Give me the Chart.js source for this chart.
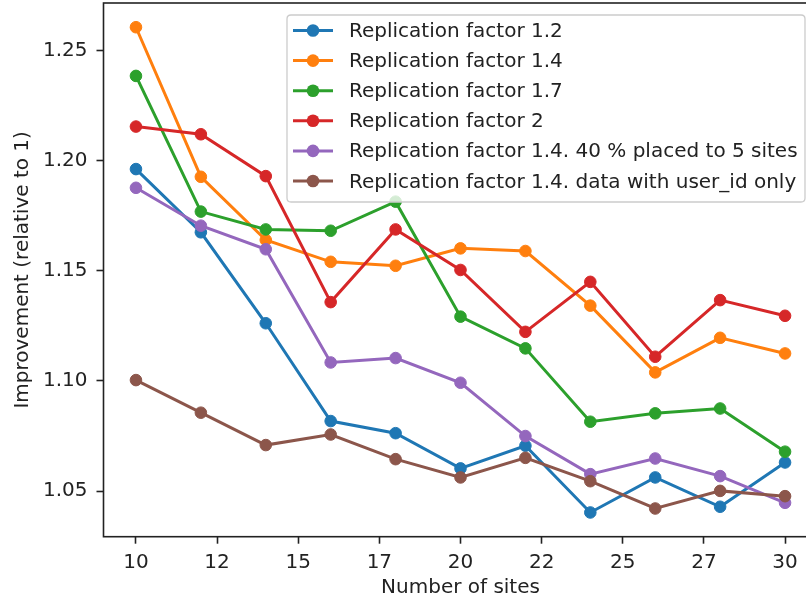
<!DOCTYPE html>
<html>
<head>
<meta charset="utf-8">
<script src="https://cdn.jsdelivr.net/npm/chart.js@4.4.0/dist/chart.umd.min.js"></script>
<style>
  html, body { margin: 0; padding: 0; background: #fff; overflow: hidden; }
  #wrap { width: 820px; height: 598px; }
</style>
</head>
<body>
<div id="wrap"><canvas id="c" width="820" height="598"></canvas></div>
<script>
// ---- data ----
const sites = [10, 12, 14, 16, 18, 20, 22, 24, 26, 28, 30];
const rf12    = [1.1962, 1.1675, 1.1262, 1.0818, 1.0763, 1.0603, 1.0706, 1.0403, 1.0562, 1.0429, 1.0630];
const rf14    = [1.2606, 1.1927, 1.1640, 1.1541, 1.1523, 1.1602, 1.1590, 1.1342, 1.1039, 1.1196, 1.1125];
const rf17    = [1.2385, 1.1769, 1.1688, 1.1682, 1.1814, 1.1292, 1.1148, 1.0815, 1.0853, 1.0875, 1.0679];
const rf2     = [1.2155, 1.2120, 1.1930, 1.1358, 1.1688, 1.1504, 1.1223, 1.1450, 1.1110, 1.1367, 1.1296];
const rf14p40 = [1.1877, 1.1705, 1.1598, 1.1084, 1.1104, 1.0992, 1.0750, 1.0577, 1.0648, 1.0568, 1.0447];
const rf14uid = [1.1004, 1.0856, 1.0709, 1.0757, 1.0645, 1.0562, 1.0651, 1.0545, 1.0421, 1.0501, 1.0477];

const seriesLabels = [
  "Replication factor 1.2",
  "Replication factor 1.4",
  "Replication factor 1.7",
  "Replication factor 2",
  "Replication factor 1.4. 40 % placed to 5 sites",
  "Replication factor 1.4. data with user_id only"
];
const seriesColors = ["#1f77b4", "#ff7f0e", "#2ca02c", "#d62728", "#9467bd", "#8c564b"];
const seriesValues = [rf12, rf14, rf17, rf2, rf14p40, rf14uid];

const xTickValues = [10, 12.5, 15, 17.5, 20, 22.5, 25, 27.5, 30];
const xTickLabels = ["10", "12", "15", "17", "20", "22", "25", "27", "30"];
const yTickValues = [1.05, 1.10, 1.15, 1.20, 1.25];
const yTickLabels = ["1.05", "1.10", "1.15", "1.20", "1.25"];

const xTitle = "Number of sites";
const yTitle = "Improvement (relative to 1)";

// ---- chart ----
Chart.defaults.font.family = "'DejaVu Sans', sans-serif";
Chart.defaults.font.size = 20;
Chart.defaults.color = "#222";

const datasets = seriesValues.map((vals, i) => ({
  label: seriesLabels[i],
  data: sites.map((x, j) => ({ x: x, y: vals[j] })),
  borderColor: seriesColors[i],
  backgroundColor: seriesColors[i],
  pointBackgroundColor: seriesColors[i],
  pointBorderColor: seriesColors[i],
  borderWidth: 3,
  pointRadius: 5.8,
  pointBorderWidth: 1,
  pointHoverRadius: 5.8,
  tension: 0,
  fill: false,
  clip: 12,
  order: seriesValues.length - 1 - i
}));

const framePlugin = {
  id: 'frame',
  afterDatasetsDraw(chart) {
    const a = chart.chartArea, ctx = chart.ctx;
    ctx.save();
    ctx.strokeStyle = '#222';
    ctx.lineWidth = 1.6;
    ctx.strokeRect(a.left, a.top, a.right - a.left, a.bottom - a.top);
    ctx.restore();
  }
};

function roundRect(ctx, x, y, w, h, r) {
  ctx.beginPath();
  ctx.moveTo(x + r, y);
  ctx.lineTo(x + w - r, y);
  ctx.quadraticCurveTo(x + w, y, x + w, y + r);
  ctx.lineTo(x + w, y + h - r);
  ctx.quadraticCurveTo(x + w, y + h, x + w - r, y + h);
  ctx.lineTo(x + r, y + h);
  ctx.quadraticCurveTo(x, y + h, x, y + h - r);
  ctx.lineTo(x, y + r);
  ctx.quadraticCurveTo(x, y, x + r, y);
  ctx.closePath();
}

const legendPlugin = {
  id: 'mplLegend',
  afterDraw(chart) {
    const ctx = chart.ctx;
    const boxL = 287, boxT = 15, boxR = 805, boxB = 202;
    ctx.save();
    roundRect(ctx, boxL, boxT, boxR - boxL, boxB - boxT, 4);
    ctx.fillStyle = 'rgba(255,255,255,0.8)';
    ctx.fill();
    ctx.strokeStyle = '#cccccc';
    ctx.lineWidth = 1.3;
    ctx.stroke();
    const ds = chart.data.datasets;
    ctx.font = "20px 'DejaVu Sans'";
    ctx.textBaseline = 'alphabetic';
    ctx.textAlign = 'left';
    for (let i = 0; i < ds.length; i++) {
      const cy = 30.5 + i * 30.1;
      ctx.strokeStyle = ds[i].borderColor;
      ctx.lineWidth = 3;
      ctx.beginPath();
      ctx.moveTo(293, cy);
      ctx.lineTo(333, cy);
      ctx.stroke();
      ctx.fillStyle = ds[i].borderColor;
      ctx.beginPath();
      ctx.arc(313, cy, 6.3, 0, Math.PI * 2);
      ctx.fill();
      ctx.fillStyle = '#222';
      ctx.fillText(ds[i].label, 349, cy + 6.5);
    }
    ctx.restore();
  }
};

new Chart(document.getElementById('c'), {
  type: 'line',
  data: { datasets: datasets },
  plugins: [framePlugin, legendPlugin],
  options: {
    responsive: false,
    animation: false,
    devicePixelRatio: 1,
    layout: { autoPadding: false, padding: { top: 3, right: 2.5, left: 0, bottom: 0 } },
    plugins: { legend: { display: false }, tooltip: { enabled: false } },
    scales: {
      x: {
        type: 'linear',
        min: 9, max: 31,
        afterBuildTicks(scale) { scale.ticks = xTickValues.map(v => ({ value: v })); },
        afterFit(scale) {
          scale.height = 61.3;
          scale.paddingLeft = 0; scale.paddingRight = 0;
          scale.paddingTop = 0; scale.paddingBottom = 0;
        },
        ticks: {
          autoSkip: false,
          maxRotation: 0,
          padding: 7,
          color: '#222',
          callback: (v, i) => xTickLabels[i]
        },
        grid: { display: true, drawOnChartArea: false, drawTicks: true, tickLength: 7, tickColor: '#222', tickWidth: 1.6 },
        border: { display: false },
        title: { display: true, text: xTitle, color: '#222', font: { size: 20, lineHeight: 1 }, padding: { top: 0, bottom: 0 } }
      },
      y: {
        type: 'linear',
        min: 1.0293, max: 1.2716,
        afterBuildTicks(scale) { scale.ticks = yTickValues.map(v => ({ value: v })); },
        afterFit(scale) {
          scale.width = 103.5;
          scale.paddingLeft = 0; scale.paddingRight = 0;
          scale.paddingTop = 0; scale.paddingBottom = 0;
        },
        ticks: {
          padding: 9,
          color: '#222',
          callback: (v, i) => yTickLabels[i]
        },
        grid: { display: true, drawOnChartArea: false, drawTicks: true, tickLength: 7, tickColor: '#222', tickWidth: 1.6 },
        border: { display: false },
        title: { display: true, text: yTitle, color: '#222', font: { size: 20, lineHeight: 1 }, padding: { top: 13, bottom: 0 } }
      }
    }
  }
});
</script>
</body>
</html>
